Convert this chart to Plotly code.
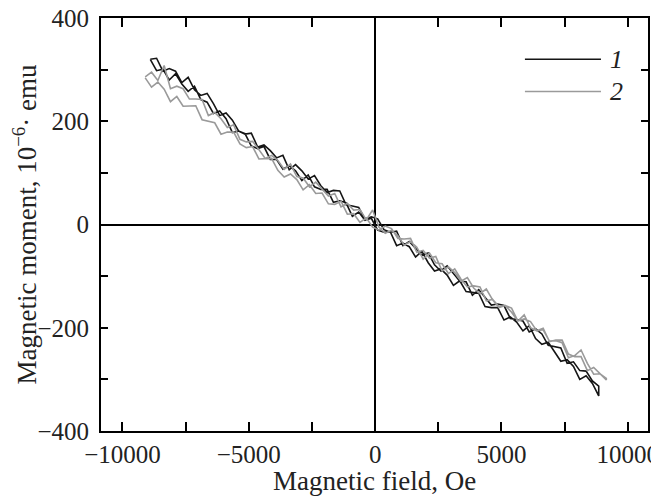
import plotly.graph_objects as go

# Magnetic field sweep points (Oe)
field_1 = [-8900, -8650, -8400, -8150, -7900, -7650, -7400, -7150, -6900, -6650,
           -6400, -6150, -5900, -5650, -5400, -5150, -4900, -4650, -4400, -4150,
           -3900, -3650, -3400, -3150, -2900, -2650, -2400, -2150, -1900, -1650,
           -1400, -1150, -900, -650, -400, -150, 100, 350, 600, 850,
           1100, 1350, 1600, 1850, 2100, 2350, 2600, 2850, 3100, 3350,
           3600, 3850, 4100, 4350, 4600, 4850, 5100, 5350, 5600, 5850,
           6100, 6350, 6600, 6850, 7100, 7350, 7600, 7850, 8100, 8350,
           8600, 8850]

# Curve 1, two sweep branches (10^-6 emu)
moment_1_up = [320, 298, 301, 280, 292, 272, 258, 268, 242, 237,
               215, 220, 205, 178, 181, 176, 152, 147, 151, 126,
               126, 107, 114, 104, 85, 96, 73, 68, 68, 43,
               46, 42, 16, 24, 8, 12, -11, -15, -14, -41,
               -36, -43, -63, -52, -74, -90, -86, -98, -118, -109,
               -130, -131, -133, -159, -161, -161, -185, -179, -189, -206,
               -196, -221, -232, -228, -247, -265, -262, -275, -300, -293,
               -308, -332]
moment_1_down = [320, 322, 297, 302, 297, 275, 285, 261, 250, 254,
                 234, 211, 216, 202, 181, 175, 177, 150, 154, 143,
                 129, 134, 106, 116, 104, 88, 95, 75, 62, 66,
                 65, 38, 36, 33, 10, 15, 11, -10, -15, -13,
                 -41, -33, -46, -59, -55, -78, -90, -80, -96, -110,
                 -111, -137, -126, -141, -156, -154, -157, -182, -184, -187,
                 -208, -202, -212, -234, -236, -239, -269, -266, -283, -284,
                 -303, -313]

field_2 = [-9100, -8850, -8600, -8350, -8100, -7850, -7600, -7350, -7100, -6850,
           -6600, -6350, -6100, -5850, -5600, -5350, -5100, -4850, -4600, -4350,
           -4100, -3850, -3600, -3350, -3100, -2850, -2600, -2350, -2100, -1850,
           -1600, -1350, -1100, -850, -600, -350, -100, 150, 400, 650,
           900, 1150, 1400, 1650, 1900, 2150, 2400, 2650, 2900, 3150,
           3400, 3650, 3900, 4150, 4400, 4650, 4900, 5150, 5400, 5650,
           5900, 6150, 6400, 6650, 6900, 7150, 7400, 7650, 7900, 8150,
           8400, 8650, 8900, 9150]

moment_2_up = [284, 266, 276, 262, 238, 248, 229, 230, 230, 203,
               200, 197, 175, 179, 179, 156, 149, 151, 127, 127,
               128, 105, 92, 98, 87, 67, 77, 60, 61, 40,
               39, 45, 20, 21, 4, 13, -5, -11, -3, -8,
               -27, -28, -27, -54, -50, -65, -62, -90, -82, -93,
               -110, -103, -123, -134, -125, -146, -161, -157, -162, -187,
               -183, -188, -206, -201, -227, -224, -224, -251, -256, -256,
               -283, -277, -289, -301]
moment_2_down = [286, 295, 279, 308, 263, 268, 263, 243, 243, 242,
                 211, 217, 205, 188, 193, 165, 160, 161, 145, 128,
                 134, 124, 107, 117, 93, 90, 73, 82, 69, 55,
                 60, 34, 41, 28, 29, 9, 28, -5, -17, -11,
                 -22, -40, -33, -44, -67, -55, -74, -76, -95, -86,
                 -106, -121, -119, -121, -148, -145, -159, -157, -170, -187,
                 -175, -200, -206, -204, -226, -225, -229, -258, -254, -243,
                 -269, -290, -289, -298]

series_names = ["1", "2"]
series_colors = ["#151515", "#9a9a9a"]

x_tickvals = [-10000, -7500, -5000, -2500, 0, 2500, 5000, 7500, 10000]
x_ticktext = ["\u221210000", " ", "\u22125000", " ", "0", " ", "5000", " ", "10000"]
y_tickvals = [-400, -300, -200, -100, 0, 100, 200, 300, 400]
y_ticktext = ["\u2212400", " ", "\u2212200", " ", "0", " ", "200", " ", "400"]

x_title = "Magnetic field, Oe"
y_title = "Magnetic moment, 10<sup>\u22126</sup>\u00b7 emu"

fig = go.Figure()
fig.add_trace(go.Scatter(
    x=field_1 + field_1[::-1], y=moment_1_up + moment_1_down[::-1],
    mode="lines", name=series_names[0],
    line=dict(color=series_colors[0], width=1.6)))
fig.add_trace(go.Scatter(
    x=field_2 + field_2[::-1], y=moment_2_up + moment_2_down[::-1],
    mode="lines", name=series_names[1],
    line=dict(color=series_colors[1], width=1.6)))

font_family = "Liberation Serif"

# Legend drawn in paper coordinates (long line samples as in the original)
legend_y = [0.900, 0.822]
for name, color, ly in zip(series_names, series_colors, legend_y):
    fig.add_shape(type="line", xref="paper", yref="paper",
                  x0=0.775, x1=0.914, y0=ly, y1=ly,
                  line=dict(color=color, width=1.6))
    fig.add_annotation(xref="paper", yref="paper", x=0.927, y=ly,
                       xanchor="left", yanchor="middle", showarrow=False,
                       text="<i>" + name + "</i>",
                       font=dict(family=font_family, size=26, color="#222"))

# X axis title placed just under the tick labels
fig.add_annotation(xref="paper", yref="paper", x=0.5, y=-0.122,
                   xanchor="center", yanchor="middle", showarrow=False,
                   text=x_title,
                   font=dict(family=font_family, size=27, color="#222"))

axis_common = dict(
    showline=True, linecolor="black", linewidth=2, mirror="ticks",
    ticks="inside", tickcolor="black", tickwidth=1.5,
    showgrid=False, zeroline=True, zerolinecolor="black", zerolinewidth=1.5,
    automargin=False, ticklabeloverflow="allow",
    tickfont=dict(family=font_family, size=25, color="#222"),
)
# Page body adds an 8 px offset, so the figure is 8 px smaller than the window.
fig.update_layout(
    width=651, height=492,
    margin=dict(l=93, r=11, t=10, b=69),
    paper_bgcolor="white", plot_bgcolor="white",
    font=dict(family=font_family, color="#222"),
    xaxis=dict(range=[-10850, 10800], tickmode="array", tickvals=x_tickvals,
               ticktext=x_ticktext, ticklen=9,
               **axis_common),
    yaxis=dict(range=[-400, 400], tickmode="array", tickvals=y_tickvals,
               ticktext=y_ticktext, ticklen=7, ticklabelstandoff=5,
               title=dict(text=y_title, font=dict(size=27), standoff=6),
               **axis_common),
    showlegend=False,
)

fig.write_html("out.html")
